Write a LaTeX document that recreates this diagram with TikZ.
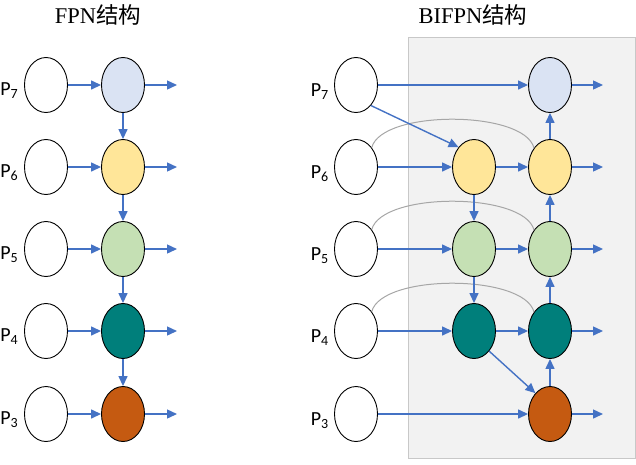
\documentclass[tikz,border=0pt]{standalone}
\usepackage{fontspec}
\setmainfont{Liberation Serif}
\newfontfamily\labfont{Carlito}
\newfontfamily\cjk{Noto Sans CJK SC}
\usetikzlibrary{shapes.geometric,arrows.meta}
\definecolor{arrblue}{HTML}{4472C4}
\definecolor{c7}{HTML}{DAE3F3}
\definecolor{c6}{HTML}{FFE699}
\definecolor{c5}{HTML}{C5E0B4}
\definecolor{c4}{HTML}{007F7B}
\definecolor{c3}{HTML}{C55A11}
\definecolor{boxfill}{HTML}{F2F2F2}
\definecolor{boxline}{HTML}{C8C8C8}
\definecolor{skipcol}{HTML}{A6A6A6}
\begin{document}
\begin{tikzpicture}[x=1pt,y=-1pt,
  nd/.style={ellipse,draw=black,line width=0.9pt,minimum width=43pt,minimum height=55pt,inner sep=0pt,fill=white},
  arr/.style={draw=arrblue,line width=1.4pt,-{Triangle[length=10pt,width=9pt]}},
  skipline/.style={draw=skipcol,line width=1pt},
  lab/.style={font=\labfont\fontsize{20}{20}\selectfont,anchor=base east,inner sep=0pt},
  ttl/.style={font=\fontsize{22.5}{22.5}\selectfont,inner sep=0pt,anchor=base}]
\useasboundingbox (0,0) rectangle (636,464);
\node[ttl] (t1) at (98,23) {FPN{\cjk 结构}};
\node[ttl] (t2) at (473,23) {BIFPN{\cjk 结构}};
% FPN
\foreach \n/\y/\c in {7/85/c7,6/167/c6,5/249/c5,4/331/c4,3/414/c3} {
  \node[nd] (fi\n) at (46,\y) {};
  \node[nd,fill=\c] (fo\n) at (123,\y) {};
  \node[lab] (fl\n) at (18.5,\y+10) {P\textsubscript{\n}};
  \coordinate (fe\n) at (177,\y);
  \draw[arr] (fi\n) -- (fo\n);
  \draw[arr] (fo\n) -- (fe\n);
}
\foreach \a/\b in {7/6,6/5,5/4,4/3} { \draw[arr] (fo\a) -- (fo\b); }
% BiFPN box
\filldraw[fill=boxfill,draw=boxline,line width=0.8pt] (408,37) rectangle (635,458);
\foreach \n/\y/\c in {7/85/c7,6/167/c6,5/249/c5,4/331/c4,3/414/c3} {
  \node[nd] (bi\n) at (356,\y) {};
  \node[nd,fill=\c] (bo\n) at (550,\y) {};
  \node[lab] (bl\n) at (329,\y+11) {P\textsubscript{\n}};
  \coordinate (be\n) at (603,\y);
  \draw[arr] (bo\n) -- (be\n);
}
\foreach \n/\y/\c in {6/167/c6,5/249/c5,4/331/c4} {
  \node[nd,fill=\c] (bm\n) at (474,\y) {};
  \draw[skipline] (bi\n.51) .. controls +(10,-38) and +(-10,-38) .. (bo\n.130);
  \draw[arr] (bi\n) -- (bm\n);
  \draw[arr] (bm\n) -- (bo\n);
}
\draw[arr] (bi7) -- (bo7);
\draw[arr] (bi3) -- (bo3);
\draw[arr] (bi7.-54) -- (bm6.128);
\draw[arr] (bm6) -- (bm5);
\draw[arr] (bm5) -- (bm4);
\draw[arr] (bm4.-53) -- (bo3.125);
\foreach \a/\b in {3/4,4/5,5/6,6/7} { \draw[arr] (bo\a) -- (bo\b); }
\end{tikzpicture}
\end{document}
